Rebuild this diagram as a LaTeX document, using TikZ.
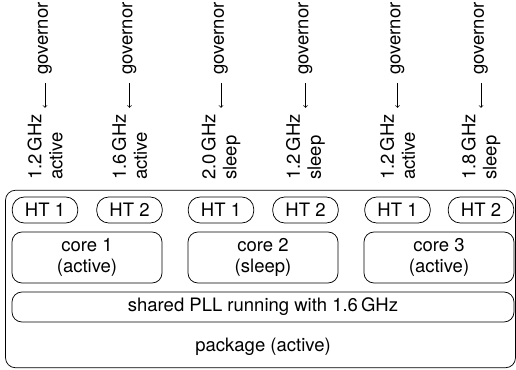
\documentclass[tikz,border=0pt]{standalone}
\usepackage{fontspec}
\setmainfont{TeX Gyre Heros}
\begin{document}
\begin{tikzpicture}[x=1pt,y=-1pt,
  every node/.style={font=\fontsize{18.5}{21}\selectfont},
  box/.style={draw, line width=0.75pt, rounded corners=10pt, inner sep=0pt},
  htbox/.style={box, rounded corners=12pt, minimum width=65.5pt, minimum height=26pt},
  corebox/.style={box, align=center, minimum width=150pt, minimum height=51pt},
  freq/.style={rotate=90, anchor=west, align=left, inner sep=3pt},
  gov/.style={rotate=90, anchor=west, inner sep=3pt},
  govarrow/.style={->, line width=0.75pt, shorten <=5pt, shorten >=3pt}]
\useasboundingbox (0,0) rectangle (516,369);
% package
\node[box, minimum width=510pt, minimum height=177.5pt] (pkg) at (260.5,279) {};
\node (pkglabel) at (263,347) {package (active)};
% PLL
\node[box, minimum width=502pt, minimum height=30pt] (pll) at (263,307) {shared PLL running with 1.6\,GHz};
% cores
\node[corebox] (c1) at (87,257.5) {core 1\\(active)};
\node[corebox] (c2) at (263,257.5) {core 2\\(sleep)};
\node[corebox] (c3) at (439,257.5) {core 3\\(active)};
% hyperthreads
\node[htbox] (h11) at (45,210) {HT 1};
\node[htbox] (h12) at (129.5,210) {HT 2};
\node[htbox] (h21) at (221,210) {HT 1};
\node[htbox] (h22) at (305.5,210) {HT 2};
\node[htbox] (h31) at (397.5,210) {HT 1};
\node[htbox] (h32) at (481,210) {HT 2};
% frequency labels and governors
\foreach \i/\x/\f/\s in {1/45/1.2/active, 2/129.5/1.6/active, 3/221/2.0/sleep, 4/305.5/1.2/sleep, 5/397.5/1.2/active, 6/481/1.8/sleep} {
  \node[freq] (f\i) at (\x,183) {\f\,GHz\\\s};
  \node[gov] (g\i) at (\x,78) {governor};
  \draw[govarrow] (g\i.west) -- (f\i.east);
}
\end{tikzpicture}
\end{document}
